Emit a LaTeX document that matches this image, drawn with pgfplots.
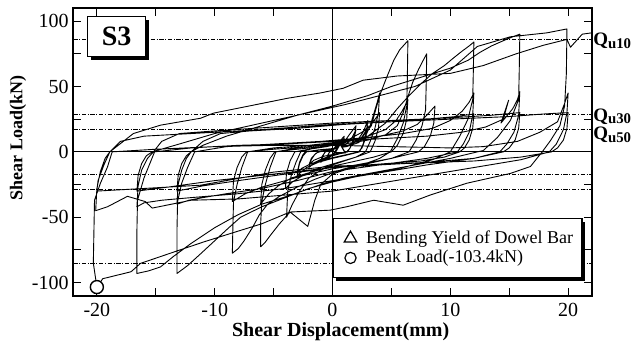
\documentclass[border=0pt]{standalone}
\usepackage{fontspec}
\setmainfont{Liberation Serif}
\usepackage{pgfplots}
\pgfplotsset{compat=1.18}
\usetikzlibrary{shadows}

\begin{document}
\begin{tikzpicture}
\begin{axis}[
  name=main,
  at={(0pt,0pt)}, anchor=south west,
  scale only axis, width=259.2pt, height=143.85pt,
  xmin=-22, xmax=22, ymin=-110, ymax=110,
  xtick={-20,-10,0,10,20}, xticklabels={-20,-10,0,10,20},
  ytick={-100,-50,0,50,100}, yticklabels={-100,-50,0,50,100},
  minor xtick={-15,-5,5,15}, minor ytick={-75,-25,25,75},
  xtick pos=both, ytick pos=both, tick align=inside,
  major tick length=4pt, minor tick length=4pt,
  every tick/.style={black, line width=0.5pt},
  axis line style={line width=1pt},
  tick label style={font=\fontsize{10}{12}\selectfont},
  yticklabel style={xshift=1.2pt},
  xlabel={Shear Displacement(mm)}, ylabel={Shear Load(kN)},
  xlabel style={font=\bfseries\fontsize{10}{12}\selectfont,
    at={(axis description cs:0.5158,-0.1425)}, anchor=base},
  ylabel style={font=\bfseries\fontsize{9}{10}\selectfont,
    at={(axis description cs:-0.1067,0.548)}, anchor=center},
  clip mode=individual,
  qu/.style={black, line width=0.45pt,
    dash pattern=on 2.2pt off 0.8pt on 0.5pt off 0.8pt},
  legend style={at={(axis description cs:0.9826,0.0605)}, anchor=south east,
    draw=black, line width=0.6pt, fill=white,
    drop shadow={shadow xshift=1.6pt, shadow yshift=-1.6pt, opacity=1, fill=black},
    font=\fontsize{9}{10}\selectfont, inner xsep=3.5pt, inner ysep=5pt,
    row sep=0pt, nodes={inner sep=1pt}},
  legend cell align=left,
  legend image code/.code={\path (0pt,0pt) (11.5pt,0pt); \draw[#1] plot coordinates {(5pt,0pt)};},
]

% ultimate strength levels Qu10, Qu30, Qu50
\addplot[forget plot, qu] coordinates {(-22,85.6) (22,85.6)};
\addplot[forget plot, qu] coordinates {(-22,-85.6) (22,-85.6)};
\addplot[forget plot, qu] coordinates {(-22,28.6) (22,28.6)};
\addplot[forget plot, qu] coordinates {(-22,-28.6) (22,-28.6)};
\addplot[forget plot, qu] coordinates {(-22,17.1) (22,17.1)};
\addplot[forget plot, qu] coordinates {(-22,-17.1) (22,-17.1)};

% zero lines
\addplot[forget plot, black, line width=0.5pt] coordinates {(-22,0) (22,0)};
\addplot[forget plot, black, line width=0.5pt] coordinates {(0,-110) (0,110)};

% load-displacement history
\addplot[forget plot, black, line width=0.45pt, line join=round] coordinates {
(0,0) (0.2,3) (0.4,6) (0.5,7) (0.4,4) (0.3,1.5) (0.2,0) (0,-2) (-0.3,-4.5) (-0.5,-6) (-0.4,-3.5) (-0.3,-1) (-0.2,0) (0,1.5)
(0.3,4.5) (0.5,6) (0.4,3) (0.25,0) (0,-2) (-0.3,-3.5) (-0.5,-5) (-0.4,-2.5) (-0.25,0) (0,1.5)
(0.4,5) (0.7,9) (1.0,12) (0.85,6) (0.7,2) (0.55,0) (0.2,-2) (-0.3,-4) (-0.7,-6) (-1.0,-8) (-0.85,-4) (-0.7,-1) (-0.6,0) (-0.2,1) (0.2,3)
(0.5,6) (1.0,10) (0.85,5) (0.65,0) (0.2,-2) (-0.5,-4.5) (-1.0,-7) (-0.85,-3) (-0.6,0) (0,2)
(0.6,5) (1.1,9) (1.5,14) (2.0,20) (1.85,12) (1.6,5) (1.3,0) (0.6,-1.5) (0,-3) (-0.8,-5) (-1.5,-8) (-2.0,-12) (-1.8,-6) (-1.5,-2) (-1.2,0) (-0.4,1.5)
(0.5,3) (1.2,6) (1.6,10) (2.0,17) (1.8,9) (1.5,3) (1.2,0) (0.3,-1.5) (-0.8,-3.5) (-1.6,-6.5) (-2.0,-10) (-1.8,-5) (-1.4,-1) (-1.1,0) (-0.3,1.5)
(0.8,3.5) (1.6,6) (2.2,10) (2.6,15) (3.0,24) (2.85,14) (2.6,6) (2.3,0) (1.2,-2.5) (0,-5) (-1.2,-8) (-2.2,-12) (-3.0,-18) (-2.8,-9) (-2.5,-3) (-2.2,0) (-1,1.5)
(0.5,3) (1.5,5.5) (2.3,9) (2.7,14) (3.0,20) (2.8,10) (2.5,3) (2.2,0) (1,-2.5) (-0.5,-5.5) (-1.8,-9) (-2.6,-12.5) (-3.0,-16) (-2.8,-8) (-2.5,-2) (-2.3,0) (-1.2,1.5)
(0,2.5) (1.2,4) (2.2,7) (2.8,12) (3.2,20) (3.5,29) (3.8,38) (4.0,45) (3.9,30) (3.6,18) (3.2,8) (2.8,0) (2.0,-4) (1.0,-7) (0,-10) (-1.0,-14) (-2.0,-20) (-2.8,-30) (-3.4,-40) (-3.9,-50) (-3.8,-30) (-3.5,-18) (-3.1,-8) (-2.7,0)
(-1.5,3) (0,6) (1.5,10) (2.5,15) (3.2,20) (3.7,26) (4.0,30) (3.9,18) (3.6,8) (3.2,0) (2,-4) (0.5,-8) (-1,-12) (-2.5,-18) (-3.4,-23) (-4.0,-28) (-3.9,-16) (-3.6,-7) (-3.2,0)
(-2,2) (-0.5,4) (1,7) (2.5,11) (3.3,20) (3.6,30) (4.0,43) (4.6,57) (5.2,70) (5.7,78) (6.1,82) (6.4,85) (6.35,55) (6.3,35) (6.0,22) (5.5,10) (4.9,0) (4.0,-5) (2.5,-10) (1.0,-14) (0,-17) (-1,-25) (-1.5,-37) (-2.1,-57) (-3.6,-46) (-4.5,-55) (-5.2,-63) (-5.7,-69) (-6.1,-72.6) (-6.1,-55) (-6.0,-38) (-5.7,-25) (-5.3,-12) (-4.8,0)
(-3,3) (-1,5) (1,8) (3,12) (4.5,17) (5.4,24) (5.9,31) (6.2,36) (6.4,40) (6.3,25) (6.0,14) (5.5,5) (5.0,0) (3.5,-4) (1.5,-8) (0,-11) (-2,-16) (-3.5,-20) (-4.6,-26) (-5.4,-32) (-6.1,-40) (-6.0,-25) (-5.7,-14) (-5.3,-5) (-4.9,0)
(-3,2) (-1,4) (1,6) (3,9) (4.5,13) (5.5,20) (6.0,30) (6.4,42) (6.8,53) (7.3,63) (7.7,70) (8.0,75) (7.95,50) (7.9,32) (7.6,20) (7.1,9) (6.5,0) (5,-5) (3,-9) (1,-13) (0,-16) (-1.5,-21) (-3,-27) (-4.5,-34) (-5.5,-40) (-6.2,-48) (-6.8,-58) (-7.5,-68) (-8.0,-74) (-8.5,-77.5) (-8.45,-55) (-8.4,-38) (-8.1,-25) (-7.7,-12) (-7.2,0)
(-5,3) (-2,5) (1,8) (4,12) (6,16) (7.2,21) (7.9,27) (8.4,32) (8.7,35) (8.6,22) (8.3,12) (7.8,4) (7.3,0) (5,-5) (2,-10) (0,-13) (-2,-17) (-4,-22) (-6,-27) (-7.4,-32) (-8.5,-38) (-8.4,-22) (-8.1,-12) (-7.7,-4) (-7.3,0)
(-5,2) (-2,4) (1,7) (3,12) (4.5,22) (5.5,33) (6.5,43) (7.5,52) (8.5,60) (9.5,66) (10.3,72) (11,77) (11.6,81) (12,84) (11.95,60) (11.9,40) (11.5,25) (10.8,12) (10,0) (8.5,-6) (6,-12) (3,-17) (0,-23) (-2,-28) (-4,-35) (-6,-42) (-7.8,-50) (-8.8,-58) (-10,-68) (-11.2,-78) (-12.3,-87) (-13.2,-93) (-13.2,-60) (-13.15,-38) (-12.8,-24) (-12.3,-12) (-11.7,0)
(-9,4) (-5,6) (-1,8) (3,11) (6,14) (8.5,18) (10,24) (11,31) (11.6,38) (12,45) (11.9,28) (11.6,15) (11.1,6) (10.6,0) (8,-5) (4,-10) (0,-15) (-3,-22) (-6,-28) (-9,-32) (-11,-35) (-12.2,-37) (-13.2,-40) (-13.1,-25) (-12.8,-14) (-12.4,-5) (-12.0,0)
(-11,8) (-9.5,14) (-7,16) (-3,18) (1,21) (5,23) (8,25) (10.5,27) (12,29) (11.9,18) (11.6,9) (11.2,3) (10.8,0) (9.5,-4) (7.5,-7) (3,-10) (0,-12) (-4,-17) (-8,-22) (-11,-26) (-13.2,-30) (-13.1,-18) (-12.8,-9) (-12.4,-3) (-12.0,0)
(-11,5) (-9,12) (-6,20) (-3,28) (0,35) (3,43) (5,50) (7.5,57) (10,64) (11.5,70) (12.5,76) (13.5,81) (14.5,85) (15.3,88) (15.9,90) (15.85,62) (15.8,40) (15.1,24) (14.0,11) (12.8,1) (12.3,0) (10,-5) (7,-10) (4,-15) (1,-20) (-1,-25) (-3.5,-33) (-6,-40) (-8,-48) (-10,-58) (-12,-70) (-13.5,-80) (-14.6,-88) (-15.6,-91) (-16.6,-93) (-16.6,-60) (-16.55,-37) (-16,-20) (-15.1,0)
(-12,3) (-8,5) (-4,6) (0,8) (4,10) (8,12) (11,15) (13,19) (14.5,25) (14.95,39.5) (14.3,22) (15.3,33) (15.7,40) (15.9,46) (15.8,28) (15.4,15) (14.8,6) (14.2,0) (12,-5) (8,-10) (4,-16) (0,-22) (-4,-28) (-8,-32) (-12,-35) (-14.5,-37) (-16,-39) (-16.6,-42) (-16.5,-26) (-16.2,-14) (-15.7,-5) (-15.2,0)
(-14.5,8) (-13,14) (-10,16) (-5,19) (0,22) (5,24) (10,26) (13.5,28) (15.9,30) (15.8,18) (15.5,9) (15,3) (14.5,0) (12,-5) (8,-8) (4,-10) (0,-12) (-5,-17) (-10,-22) (-14,-27) (-16.6,-30) (-16.5,-18) (-16.2,-9) (-15.8,-3) (-15.3,0)
(-13,6) (-10,14) (-6,22) (-2,30) (1,36) (4,43) (7,50) (10,62.5) (12.3,80.6) (15.1,88) (18.2,91) (19.9,94) (19.85,60) (19.7,35) (19.3,20) (18.5,8.6) (17.8,0) (16.8,-11.2) (15.1,-16.5) (11.4,-24) (8.3,-33) (6,-40.8) (3.5,-37) (1.2,-42) (-0.2,-44.6) (-3.6,-46) (-6,-55) (-8.5,-62) (-10.9,-68.8) (-13.4,-76.4) (-16.3,-85.3) (-17.1,-91.7) (-19.5,-97) (-20,-103.4) (-20.3,-85) (-20.2,-37) (-19.7,-24) (-19.1,-11.6) (-18.7,0)
(-15,2) (-10,4) (-5,5) (0,5) (5,4) (10,3) (12.8,4) (15.7,8) (17.6,15) (19.1,23) (19.7,37) (20,45) (19.9,30) (19.6,17) (19.0,6) (18.4,0) (16,-6) (12,-12) (8,-18) (4,-24) (0,-30) (-4,-33) (-8,-36) (-12,-37) (-15.3,-43) (-15.9,-38) (-17.4,-34) (-19.1,-42) (-20.1,-45) (-20.0,-28) (-19.7,-15) (-19.3,-5) (-18.9,0)
(-18,8) (-16,12) (-12,14) (-6,17) (0,21) (5,23) (10,25) (15,27) (18,29) (20,30) (19.9,18) (19.6,9) (19.1,3) (18.6,0) (16,-4) (12,-7) (6,-9) (0,-11) (-5,-15.5) (-11.2,-25.5) (-16,-28) (-20,-30)
(-19.9,-22) (-19.4,-10) (-18.9,0) (-16.9,14) (-14.6,20.4) (-11.2,25.7) (-10.1,29.6) (-3.8,41) (-1.05,45) (0.9,48.6) (2.6,54.8) (5.5,58) (10,60) (12.8,66) (15.6,75) (17.9,81.5) (19.9,86) (20.2,80) (21.2,90) (22,91)
};

% characteristic points
\addplot[forget plot, only marks, mark=triangle*, mark size=2.9pt,
  mark options={fill=white, draw=black, line width=0.6pt}] coordinates {(0.65,1.5)};
\addplot[forget plot, only marks, mark=*, mark size=3.25pt,
  mark options={fill=white, draw=black, line width=0.7pt}] coordinates {(-20,-103.4)};

\addlegendimage{only marks, mark=triangle, mark size=3.6pt, mark options={line width=0.6pt}}
\addlegendentry{Bending Yield of Dowel Bar\hspace{2.5pt}}
\addlegendimage{only marks, mark=o, mark size=2.8pt, mark options={line width=0.6pt}}
\addlegendentry{Peak Load(-103.4kN)}

% specimen tag
\node[draw=black, line width=0.6pt, fill=white,
  drop shadow={shadow xshift=1.6pt, shadow yshift=-1.6pt, opacity=1, fill=black},
  minimum width=29pt, minimum height=20pt, inner sep=0pt,
  font=\bfseries\fontsize{14}{14}\selectfont]
  at (axis description cs:0.0837,0.9003) {S3};

% strength level labels
\foreach \yy/\lab in {81/10, 23.5/30, 9.5/50}{
  \edef\tmp{\noexpand\node[anchor=base west, inner sep=0pt,
    font=\noexpand\bfseries\noexpand\fontsize{9.5}{9.5}\noexpand\selectfont]
    at (axis cs:22.1,\yy) {Q\noexpand\raisebox{-1.3pt}{\noexpand\fontsize{7.4}{8}\noexpand\selectfont u\lab}};}
  \tmp
}
\end{axis}
\pgfresetboundingbox
\path[use as bounding box] (-36.65pt,-23.65pt) rectangle (279.85pt,147.85pt);
\end{tikzpicture}
\end{document}
